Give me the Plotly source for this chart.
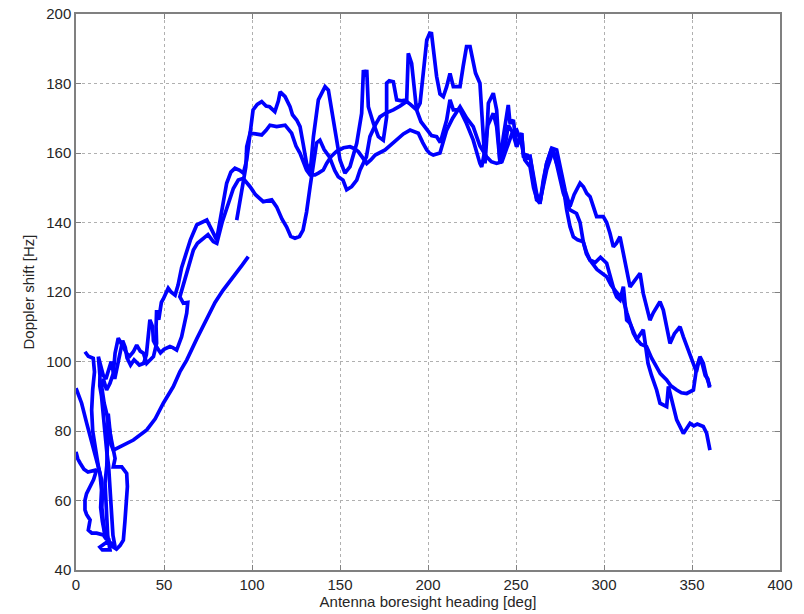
import plotly.graph_objects as go

# Three heading sweeps of measured Doppler shift (heading in deg, shift in Hz)
heading_a = [0, 3.2, 6.1, 8.9, 11.8, 13.6, 14.5, 14, 15, 16.5, 20, 23, 25, 26.9, 27.8, 28.3, 28.8, 29.2, 28.8, 26,
             23, 21.2, 22.2, 21, 19.5, 17.4, 16, 14.6, 15.5, 17.4, 19.3, 21.2, 22.2, 24, 25.9, 27.8, 28.8, 30.5,
             32.6, 34.5, 36.5, 38.3, 40.2, 42, 44, 45.8, 45.5, 45.8, 47, 48.5, 49.6, 52.4, 54, 56.3, 58, 60, 62.9,
             65, 68.6, 71, 74.3, 77, 79.9, 82, 84, 85.6, 88, 90.3, 93, 95.1, 97, 99, 100.6, 103, 105.5, 108, 110,
             113, 115, 116, 118.8, 121.6, 123, 125.4, 127.3, 129, 131, 133, 134.9, 137.7, 141.5, 143.4, 146.2, 150,
             152.8, 155.7, 159.5, 162.3, 163.3, 164.3, 165.2, 166.1, 169, 171.8, 174.6, 176.5, 176.5, 178, 180.3,
             182.2, 185, 187.9, 188.8, 190.7, 193.5, 195.5, 199.3, 201, 202, 203, 204.9, 206.8, 208.7, 210.6, 212.5,
             214.4, 218.2, 220, 221.9, 223.9, 225.7, 227, 229.5, 230.5, 231.4, 232.4, 233.3, 234.3, 237.1, 239,
             240.9, 242.8, 245.6, 246.6, 248.5, 250.4, 253.2, 254.2, 258, 259.8, 261.7, 263.6, 265.5, 267.4, 270.3,
             273.1, 275, 276.9, 278, 280.7, 283, 286.4, 288.3, 290.2, 292.1, 294, 295.8, 299.6, 301.5, 303.4, 305.3,
             307, 309.1, 311, 313, 314.8, 317, 320.5, 322.3, 324.2, 326.1, 328, 331.8, 333.7, 335.6, 337.5, 340,
             343.2, 345.1, 348, 350.8, 352.5, 354.5, 356.4, 358, 360.2]
doppler_a = [92.3, 88, 82.2, 76.5, 70.8, 67.9, 63, 58, 54, 50, 47, 46, 47, 48.6, 54, 57, 60.1, 64, 67.8, 69.7,
             69.7, 69.7, 72.1, 75, 79, 85.1, 88, 92.7, 95, 91.8, 93.7, 96.6, 102.4, 106.7, 105.2, 103.3, 102.4, 101.5,
             102.8, 104.7, 103, 102.4, 99.5, 100.5, 101.4, 105.2, 110, 114.8, 112, 117, 118, 121.1, 120, 119.1, 122,
             127, 132.1, 135, 139.3, 140, 140.7, 138, 135, 141, 147, 151.3, 154.5, 155.6, 155, 154.2, 158, 165,
             172.4, 174, 174.8, 173.5, 173.3, 171.9, 175, 177.6, 176.2, 173.3, 171, 169.5, 167.6, 162.8, 157, 154.2,
             164.7, 175.3, 179.1, 178.1, 169.5, 158, 154.2, 156.1, 162.8, 171.4, 183.9, 182, 183.9, 173.3, 168.5,
             164.7, 163.7, 170.4, 180.1, 180.8, 180.5, 175.3, 175, 175.3, 188.7, 185.8, 172.4, 174.3, 192.5, 194.5,
             194.4, 190.6, 182, 177, 176.2, 179.1, 182.9, 179.1, 179.1, 185, 190.6, 190.6, 185.8, 183, 180.1, 172,
             164.7, 157, 163.7, 174.3, 177.2, 172.4, 157, 164.7, 173.8, 168.5, 169.5, 161.8, 165.7, 159.9, 158.9,
             153.2, 148.4, 145.5, 152.2, 157, 161.4, 160.9, 156.1, 152.2, 149, 144.6, 148, 151.3, 150.3, 148.4,
             147.4, 144.5, 141.7, 141.7, 140, 136.9, 133, 134, 135.9, 131.1, 126, 121.5, 123, 125.4, 119.6, 116,
             111.9, 114, 117.2, 114.8, 110, 105.2, 108, 110, 107.1, 103, 99.5, 97, 101.4, 99.5, 96, 92.8]

heading_b = [5.1, 7, 9.8, 10.5, 9.5, 8.9, 9.5, 10.5, 12, 13, 14.5, 15, 14.7, 15.5, 16.5, 18, 20, 22.2, 21, 20.3,
             19.8, 19.3, 18.5, 17.5, 16.5, 15.5, 14.5, 13.5, 13.6, 12.7, 14, 15.5, 17, 18.5, 20, 22, 24, 26.5, 28,
             29, 31, 33, 36, 38.5, 40, 41.5, 42, 43.5, 44, 46, 48, 50, 53.4, 55, 57.2, 60, 62.9, 63.5, 61, 59, 62,
             64.5, 66.7, 69, 72.3, 75, 78, 80, 83, 86, 89.4, 92.2, 95, 98.9, 102, 106.4, 111.2, 114, 117, 119.7,
             122, 124.4, 127, 129, 131, 133, 135, 136.7, 138.6, 141, 144, 147, 149, 151.7, 153.8, 156.6, 159.5,
             161.4, 165, 167, 170, 172.7, 176, 180.3, 184, 187.9, 190, 193.5, 196, 199.3, 202, 204.9, 207, 210.6,
             212.5, 214.4, 218.2, 221.9, 225.7, 229.5, 230.5, 232, 234, 237.1, 239, 241, 243.8, 245.6, 248, 250.4,
             253.2, 254.2, 256, 258, 260, 261.7, 263.6, 265.5, 267.4, 270, 271.2, 273, 276.9, 280.7, 284.4, 286.4,
             288.2, 290, 292, 295, 298, 301.5, 303.4, 306, 307.2, 309.1, 311, 312.9, 314.8, 318.6, 321, 324.2, 327,
             329.9, 332, 335.6, 338, 341.3, 344, 347, 350.8, 352.7, 354.5, 356, 357.5, 359, 360]
doppler_b = [102.8, 101.5, 100.9, 97, 92, 86, 80, 76, 72, 69, 66, 62, 58, 54, 50, 48.5, 47.5, 46.7, 50, 55.3,
             60, 65, 70, 74, 79.3, 86, 90, 93, 96, 101.4, 99, 96, 95, 98, 100, 95, 100, 106, 104, 101, 99, 100.5, 99,
             99.5, 102, 108, 112, 110, 106, 104, 102.5, 103.5, 104.3, 104, 103.3, 107.1, 113.9, 117, 116.8, 118.6,
             124, 129, 132.1, 134, 135.4, 136.5, 134.5, 134, 140, 145, 149.8, 152.2, 152.7, 150.3, 148, 146, 146.5,
             144.5, 141, 138.7, 136, 135.5, 136, 137.8, 143, 150.3, 158, 162.9, 163.7, 161, 158.9, 155, 153.2,
             152.2, 149.4, 150.3, 152.2, 155.1, 158.9, 164.7, 168, 170.4, 171.5, 172.4, 173.5, 174.8, 174, 172.4,
             169, 166.6, 165, 164.7, 163, 169.5, 175.3, 172.4, 172.4, 168.5, 163.7, 157, 156, 160, 168, 171.4, 167.6,
             157, 162, 168, 166, 161.8, 165.7, 159, 158.5, 159, 153, 146.5, 146, 151, 155.1, 159, 160.9, 157, 148.4,
             143.6, 142.6, 140, 134.5, 131, 129.2, 128.5, 130, 128.3, 124.5, 120, 118.6, 117.7, 121.5, 111.9, 111,
             106.4, 105, 104.3, 101, 98.5, 96.5, 94.7, 93, 91.8, 91, 90.8, 91.8, 98.5, 101, 99, 96, 95, 92.5]

# Third sweep wraps from 360 deg back to 0 deg (None breaks the line there)
heading_c = [91.3, 93, 95, 96.5, 97, 98.9, 102, 105.5, 108, 110.2, 114, 118.8, 122.5, 125, 127.3, 131, 133, 135.8,
             137.7, 140.5, 142.4, 145, 148.1, 152, 155.7, 158, 160.4, 163, 165.2, 167.5, 170, 175.6, 178, 182.2,
             186, 189.8, 194.5, 197, 199.3, 201, 203, 206.8, 208, 210.6, 214, 218.2, 222, 225.7, 229.5, 233.3, 236,
             239, 242, 245, 248, 250.4, 253, 255, 258, 260, 262, 263.6, 265, 267.4, 270.3, 273.1, 275, 276.9, 278.8,
             280.7, 282.6, 285, 288.2, 290, 292, 296, 301.5, 304, 307, 311, 313, 316.7, 318.6, 321, 322.3, 323.5,
             324.2, 325, 327, 329.9, 331.8, 333.7, 335.6, 336.6, 338, 339.4, 341.3, 345.1, 348.9, 351, 353, 356.4,
             358.3, 360.2, None,
             0, 1, 2.3, 4.5, 6.8, 9, 11.7, 10, 8, 6, 5.1, 5.1, 6, 8, 7, 9, 11.7, 15.5, 17, 19.3, 16, 13.6, 15, 17.4,
             19.3, 18, 17.5, 17, 16.5, 17.5, 18, 18.5, 18.3, 19.3, 20, 21.2, 25, 32.6, 40.2, 45, 49.6, 55.3, 59,
             62.9, 68.6, 74, 79, 83.5, 91.3, 94.5, 97.9]
doppler_c = [140.7, 146, 151.5, 156, 161.8, 165.7, 165.5, 165.2, 166.5, 168, 167.6, 168, 165.7, 162, 159.9, 155.1,
             153.7, 153.7, 154.2, 155.1, 157, 159, 160.5, 161.5, 161.8, 161.3, 160.4, 158.5, 157, 158, 159.4, 160.9,
             162, 163.7, 165.5, 166.6, 165.7, 163, 160.9, 159.9, 159.4, 160, 162, 166.6, 170, 173.3, 170, 167.6,
             162, 158.9, 157.5, 157, 157.5, 162, 166, 166.6, 163, 158, 156, 150, 146.5, 145.5, 150, 157, 161.4, 157,
             155, 150.3, 143.6, 138.8, 135.9, 135, 134.5, 131.5, 129.2, 126.5, 124.4, 122, 120, 117.7, 114, 108.1,
             106.4, 108, 109.1, 105, 101.4, 99.5, 96, 91.8, 88, 87.5, 87, 92.8, 90, 87, 83.2, 79.3, 82.2, 81.5, 82,
             81.3, 79.4, 74.5, None,
             74, 72, 70.8, 69, 68.2, 68.5, 68.8, 66, 64, 62, 60.1, 57.3, 56, 54.4, 51.5, 50.6, 50.6, 50.1, 49, 48.6,
             47.5, 46.6, 45.8, 45.8, 45.8, 50, 55, 60, 65, 70, 76, 82, 85, 80, 76, 74.5, 75.5, 77.4, 80.3, 83.5, 88,
             92.8, 97, 100.4, 106.5, 112, 117, 120.5, 125.4, 127.8, 130.2]

x_ticks = [0, 50, 100, 150, 200, 250, 300, 350, 400]
y_ticks = [40, 60, 80, 100, 120, 140, 160, 180, 200]

LINE = dict(color="#0000ff", width=3.7)
FONT = dict(family="Liberation Sans, Arial, sans-serif", size=15, color="#262626")
AXIS_GREY = "#808080"

fig = go.Figure()
for hx, dy in [(heading_a, doppler_a), (heading_b, doppler_b), (heading_c, doppler_c)]:
    fig.add_trace(go.Scatter(x=hx, y=dy, mode="lines", line=LINE,
                             connectgaps=False, showlegend=False, hoverinfo="x+y"))

axis_common = dict(
    showgrid=True, gridcolor="#b0b0b0", gridwidth=1, griddash="dot",
    showline=True, linecolor=AXIS_GREY, linewidth=1.5, mirror="ticks",
    ticks="inside", ticklen=5, tickwidth=1, tickcolor=AXIS_GREY,
    zeroline=False, tickfont=FONT, automargin=False,
)

fig.update_layout(
    width=804, height=614,
    margin=dict(l=76, r=24, t=14, b=44),
    paper_bgcolor="white", plot_bgcolor="white",
    font=FONT,
    xaxis=dict(range=[0, 400], tickvals=x_ticks, ticktext=[str(v) for v in x_ticks],
               title=dict(text="Antenna boresight heading [deg]", font=FONT, standoff=4),
               **axis_common),
    yaxis=dict(range=[40, 200], tickvals=y_ticks, ticktext=[str(v) for v in y_ticks],
               title=dict(text="Doppler shift [Hz]", font=FONT, standoff=8),
               **axis_common),
)

fig.write_html("out.html")
